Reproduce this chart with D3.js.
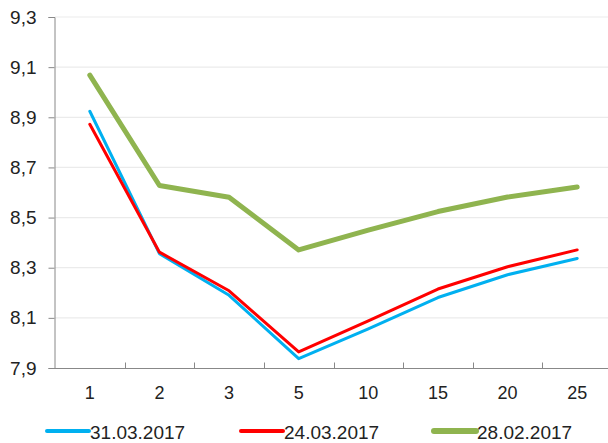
<!DOCTYPE html>
<html>
<head>
<meta charset="utf-8">
<script src="https://cdn.jsdelivr.net/npm/d3@7"></script>
<style>
  body { margin: 0; background: #fff; }
  svg { display: block; }
  text { font-family: "Liberation Sans", Arial, sans-serif; fill: #222; }
</style>
</head>
<body>
<div id="chart"></div>
<script>
// maturities (years)
const categories = ["1", "2", "3", "5", "10", "15", "20", "25"];
const yTicks = [7.9, 8.1, 8.3, 8.5, 8.7, 8.9, 9.1, 9.3];

const s31mar = [8.924, 8.356, 8.190, 7.937, 8.056, 8.181, 8.272, 8.337];
const s24mar = [8.872, 8.362, 8.208, 7.964, 8.088, 8.215, 8.304, 8.371];
const s28feb = [9.068, 8.628, 8.581, 8.371, 8.450, 8.524, 8.582, 8.622];

const seriesNames = ["31.03.2017", "24.03.2017", "28.02.2017"];
const seriesColors = ["#00b0f0", "#ff0000", "#8fb44f"];
const seriesWidths = [3, 3, 5];
const seriesData = [s31mar, s24mar, s28feb];

const width = 608, height = 443;

const svg = d3.select("#chart").append("svg")
    .attr("width", width)
    .attr("height", height);

const x = d3.scaleBand()
    .domain(categories)
    .range([55, 612])
    .padding(0);

const y = d3.scaleLinear()
    .domain([7.9, 9.3])
    .range([368, 17]);

// gridlines
svg.append("g")
    .selectAll("line")
    .data(yTicks.slice(1))
    .enter().append("line")
    .attr("x1", 55)
    .attr("x2", width)
    .attr("y1", d => y(d))
    .attr("y2", d => y(d))
    .attr("stroke", "#ebebeb")
    .attr("stroke-width", 1.2);

// y axis
const yAxis = svg.append("g")
    .attr("transform", "translate(54.5,0)")
    .call(d3.axisLeft(y).tickValues(yTicks).tickSize(6).tickFormat(d => d3.format(".1f")(d).replace(".", ",")));

// x axis, ticks between bands pointing up
const xAxis = svg.append("g")
    .attr("transform", "translate(0,368.5)");
xAxis.append("line")
    .attr("x1", 54)
    .attr("x2", width)
    .attr("stroke", "#888");
xAxis.selectAll(".tk")
    .data(categories.slice(1))
    .enter().append("line")
    .attr("class", "tk")
    .attr("x1", d => Math.round(x(d)) + 0.5)
    .attr("x2", d => Math.round(x(d)) + 0.5)
    .attr("y1", 0)
    .attr("y2", -6)
    .attr("stroke", "#888");
xAxis.selectAll("text")
    .data(categories)
    .enter().append("text")
    .attr("x", d => x(d) + x.bandwidth() / 2)
    .attr("y", 30)
    .attr("text-anchor", "middle")
    .style("font-size", "18px")
    .text(d => d);

yAxis.select(".domain").attr("stroke", "#888");
yAxis.selectAll(".tick line").attr("stroke", "#888");
yAxis.selectAll(".tick text")
    .attr("x", -18)
    .style("font-size", "19px")
    .style("font-family", "'Liberation Sans', Arial, sans-serif")
    .attr("fill", "#222");

// lines
const line = d3.line()
    .x((d, i) => x(categories[i]) + x.bandwidth() / 2)
    .y(d => y(d));

seriesData.forEach((data, k) => {
    svg.append("path")
        .datum(data)
        .attr("fill", "none")
        .attr("stroke", seriesColors[k])
        .attr("stroke-width", seriesWidths[k])
        .attr("stroke-linejoin", "round")
        .attr("stroke-linecap", "round")
        .attr("d", line);
});

// legend
const legendX = [47, 241, 434];
seriesNames.forEach((name, k) => {
    const g = svg.append("g").attr("transform", "translate(" + legendX[k] + ",431)");
    g.append("line")
        .attr("x1", 0)
        .attr("x2", 42)
        .attr("stroke", seriesColors[k])
        .attr("stroke-width", seriesWidths[k] + 1)
        .attr("stroke-linecap", "round");
    g.append("text")
        .attr("x", 43)
        .attr("y", 8)
        .style("font-size", "19px")
        .text(name);
});
</script>
</body>
</html>
